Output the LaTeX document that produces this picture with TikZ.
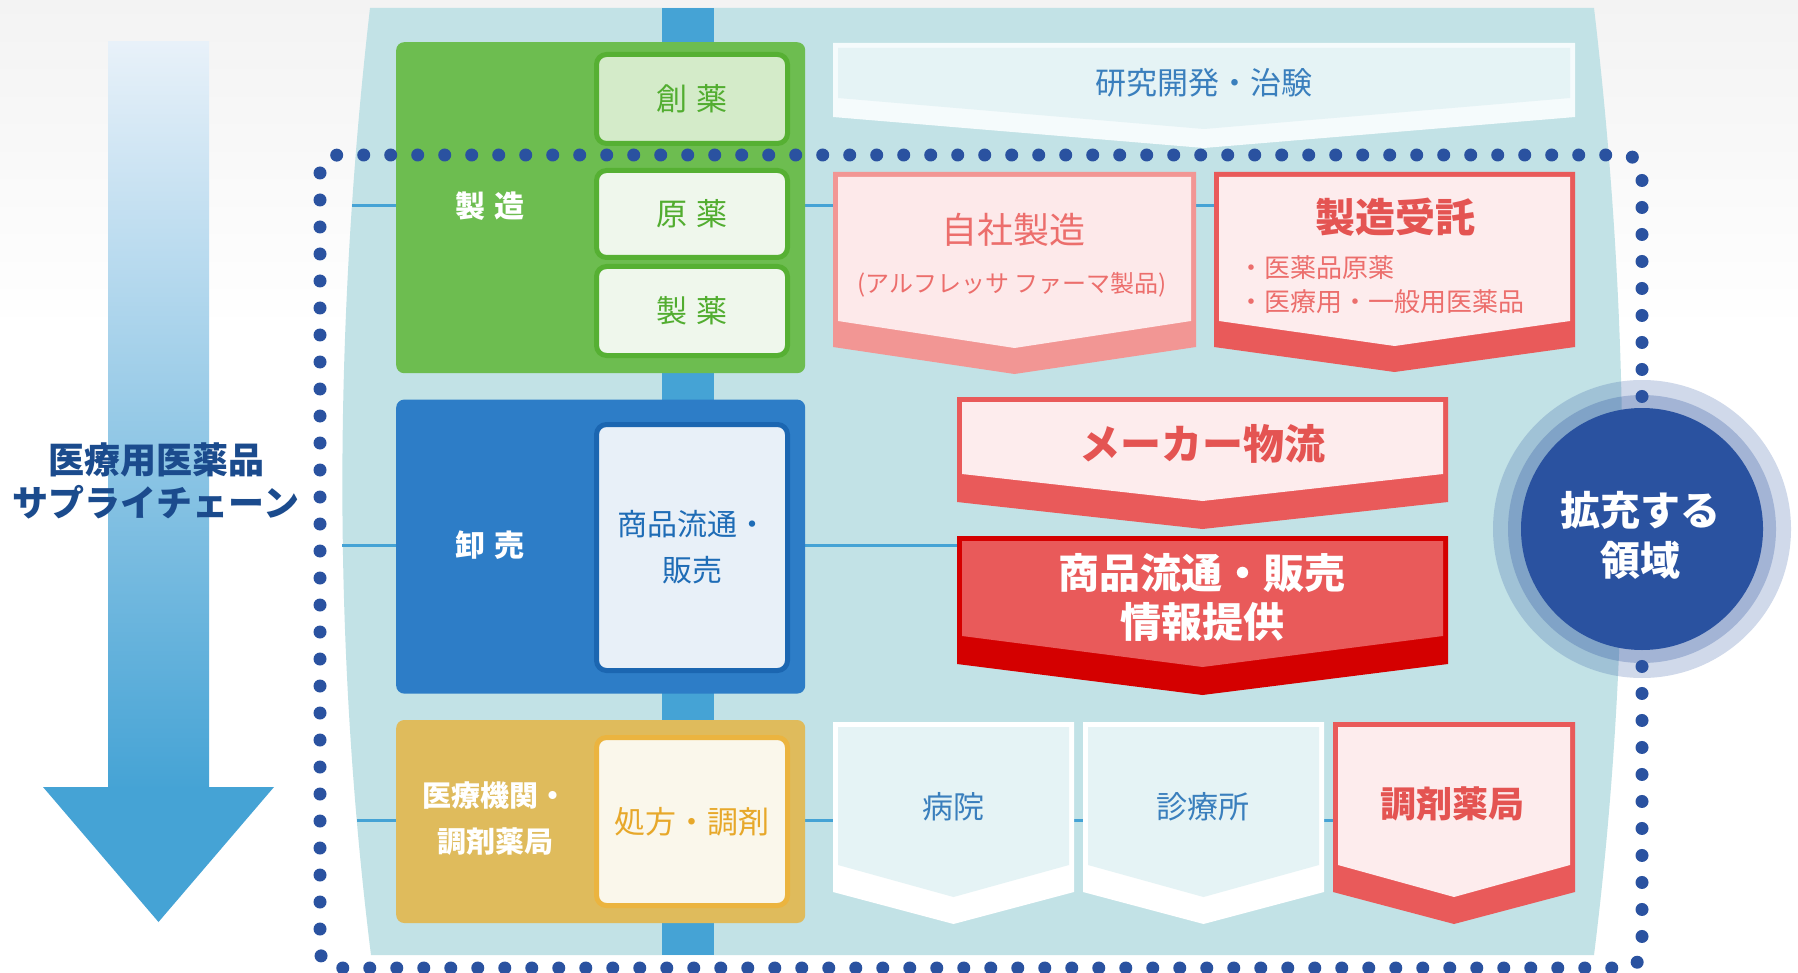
\documentclass[tikz,border=0pt]{standalone}
\usepackage{fontspec}
\setmainfont{Noto Sans CJK JP}
\usetikzlibrary{positioning}

\definecolor{bggray}{HTML}{F3F3F3}
\definecolor{panel}{HTML}{C2E2E6}
\definecolor{bar}{HTML}{45A3D5}
\definecolor{arrowtop}{HTML}{E8F1F9}
\definecolor{navy}{HTML}{2A52A0}
\definecolor{chaintext}{HTML}{1B4B8D}
\definecolor{mgreen}{HTML}{6DBD50}
\definecolor{greenline}{HTML}{56B033}
\definecolor{greentext}{HTML}{52AD30}
\definecolor{sougreen}{HTML}{D4EBC9}
\definecolor{palegreen}{HTML}{EFF7EC}
\definecolor{wblue}{HTML}{2D7DC7}
\definecolor{blueline}{HTML}{1B66B1}
\definecolor{bluefill}{HTML}{E8F0F8}
\definecolor{bluetext}{HTML}{1E6CB6}
\definecolor{gold}{HTML}{DFBB5C}
\definecolor{goldline}{HTML}{EBB43F}
\definecolor{goldfill}{HTML}{FAF7EB}
\definecolor{goldtext}{HTML}{E7A82A}
\definecolor{resband}{HTML}{F5FBFC}
\definecolor{resface}{HTML}{E5F3F5}
\definecolor{restext}{HTML}{3A7FBD}
\definecolor{pinkband}{HTML}{F29694}
\definecolor{pinkface}{HTML}{FDE9EA}
\definecolor{pinktext}{HTML}{EC6E6C}
\definecolor{redband}{HTML}{E95A5A}
\definecolor{redface}{HTML}{FDECED}
\definecolor{redtext}{HTML}{E45452}
\definecolor{deepred}{HTML}{D40000}

\pgfdeclarelayer{back}
\pgfsetlayers{back,main}

\newcommand{\jsize}[2]{\fontsize{#1}{#2}\selectfont}
% x1, x2, top, side bottom, tip, band, face, band height
\newcommand{\chevron}[8]{%
  \pgfmathsetmacro{\tipx}{(#1+#2)/2}%
  \fill[#6] (#1,#3) -- (#2,#3) -- (#2,#4) -- (\tipx,#5) -- (#1,#4) -- cycle;
  \fill[#7] (#1+5,#3+5) -- (#2-5,#3+5) -- (#2-5,#4-#8) -- (\tipx,#5-#8) -- (#1+5,#4-#8) -- cycle;
}

\tikzstyle{box} = [rectangle, rounded corners=8, minimum width=409, anchor=north west]
\tikzstyle{sub} = [rectangle, rounded corners=10, line width=5, minimum width=191, text centered]
\tikzstyle{link} = [draw=bar, line width=3]
\tikzstyle{dots} = [draw=navy, line width=13, line cap=round, dash pattern=on 0pt off 27pt, rounded corners=18]

\begin{document}
\begin{tikzpicture}[x=1pt, y=-1pt, inner sep=0pt]
   \useasboundingbox (0,0) rectangle (1798,973);
   \begin{pgfonlayer}{back}
   \fill[white] (0,0) rectangle (1798,973);
   \shade[top color=bggray, bottom color=white] (0,0) rectangle (1798,330);
   \fill[panel] (370,8) -- (1594,8) .. controls (1632,330) and (1632,650) .. (1594,955) -- (371,955) .. controls (333,650) and (333,330) .. (370,8) -- cycle;
   \end{pgfonlayer}

   % supply chain arrow
   \shade[top color=arrowtop, bottom color=bar] (108,42) rectangle (209,790);
   \fill[bar] (43,787) -- (274,787) -- (158.5,922) -- cycle;
   \node (chain) [text=chaintext, font=\bfseries\jsize{36}{43}, align=center] at (156,481) {医療用医薬品\\サプライチェーン};

   \fill[bar] (662,8) rectangle (714,955);
   \coordinate (l1) at (352,206);
   \coordinate (l2) at (342,545);
   \coordinate (l3) at (357,820);

   % stages
   \node (mfg) [box, fill=mgreen, minimum height=331] at (396,42) {};
   \node (whs) [box, fill=wblue, minimum height=294, below=26pt of mfg] {};
   \node (med) [box, fill=gold, minimum height=203, below=26pt of whs] {};
   \node (mfglabel) [text=white, font=\bfseries\jsize{30}{30}] at (490,206) {製\hspace{.3em}造};
   \node (whslabel) [text=white, font=\bfseries\jsize{30}{30}] at (490,545) {卸\hspace{.3em}売};
   \node (medlabel) [text=white, font=\bfseries\jsize{29}{46}, align=center] at (495,819) {医療機関・\\調剤薬局};

   \node (sou) [sub, draw=greenline, fill=sougreen, minimum height=89, text=greentext, font=\jsize{31}{31}] at (692,99) {創\hspace{.3em}薬};
   \node (gen) [sub, draw=greenline, fill=palegreen, minimum height=87, text=greentext, font=\jsize{31}{31}, below=22pt of sou] {原\hspace{.3em}薬};
   \node (sei) [sub, draw=greenline, fill=palegreen, minimum height=89, text=greentext, font=\jsize{31}{31}, below=4pt of gen] {製\hspace{.3em}薬};
   \node (dist) [sub, draw=blueline, fill=bluefill, minimum height=246, text=bluetext, font=\jsize{30}{46}, align=center] at (692,547.5) {商品流通・\\販売};
   \node (rx) [sub, draw=goldline, fill=goldfill, minimum height=168, text=goldtext, font=\jsize{31}{31}] at (692,821.5) {処方・調剤};

   % business areas
   \chevron{833}{1575}{43}{117}{148}{resband}{resface}{19}
   \chevron{833}{1196}{172}{347}{374}{pinkband}{pinkface}{26}
   \chevron{1214}{1575}{172}{347}{372}{redband}{redface}{26}
   \chevron{957}{1448}{397}{502}{529}{redband}{redface}{28}
   \chevron{957}{1448}{536}{664}{695}{deepred}{redband}{28}
   \chevron{833}{1074}{722}{892}{924}{white}{resface}{27}
   \chevron{1083}{1324}{722}{892}{924}{white}{resface}{27}
   \chevron{1333}{1575}{722}{892}{924}{redband}{redface}{27}

   \node (rnd) [text=restext, font=\jsize{31}{31}] at (1204,83) {研究開発・治験};
   \node (own) [text=pinktext, font=\jsize{36}{36}] at (1013,230) {自社製造};
   \node (ownsub) [text=pinktext, font=\jsize{24}{24}] at (1012,285) {(アルフレッサ ファーマ製品)};
   \node (cmo) [text=redtext, font=\bfseries\jsize{40}{40}] at (1395,217) {製造受託};
   \node (cmolist) [text=pinktext, font=\jsize{26}{34}, align=left, anchor=west] at (1238,285) {・医薬品原薬\\・医療用・一般用医薬品};
   \node (mlog) [text=redtext, font=\bfseries\jsize{41}{41}] at (1202,444) {メーカー物流};
   \node (info) [text=white, font=\bfseries\jsize{41}{49}, align=center] at (1202,597) {商品流通・販売\\情報提供};
   \node (hosp) [text=restext, font=\jsize{31}{31}] at (953,807) {病院};
   \node (clin) [text=restext, font=\jsize{31}{31}] at (1203,807) {診療所};
   \node (pharm) [text=redtext, font=\bfseries\jsize{36}{36}] at (1452,804) {調剤薬局};

   \begin{pgfonlayer}{back}
   \draw[link] (l1) -- (l1 -| cmo);
   \draw[link] (l2) -- (l2 -| info);
   \draw[link] (l3) -- (l3 -| pharm);
   \end{pgfonlayer}

   % expanded area
   \draw[dots] (320,155) rectangle (1642,968);
   \node (halo) [circle, fill=navy, fill opacity=0.22, minimum size=298] at (1642,529) {};
   \node (ring) [circle, fill=navy, fill opacity=0.27, minimum size=268] at (halo) {};
   \node (core) [circle, fill=navy, minimum size=242] at (halo) {};
   \node (grow) [text=white, font=\bfseries\jsize{40}{50}, align=center] at (1640,535) {拡充する\\領域};
\end{tikzpicture}
\end{document}
